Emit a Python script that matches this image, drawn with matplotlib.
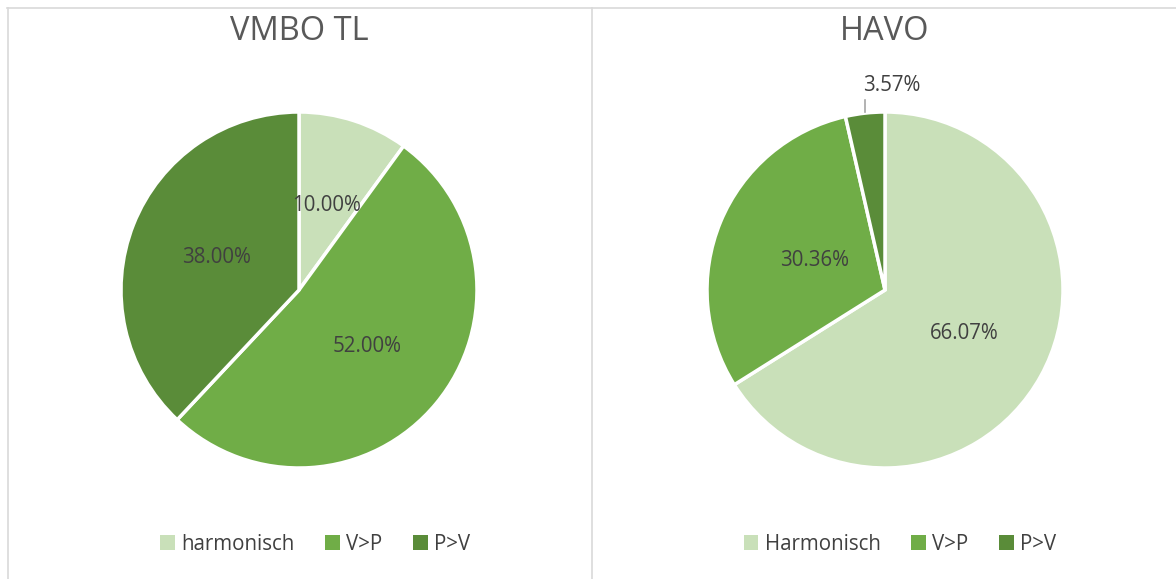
import numpy as np
import matplotlib
matplotlib.use("Agg")
import matplotlib.pyplot as plt
from matplotlib.lines import Line2D
from matplotlib.patches import Patch
from matplotlib import font_manager as fm

# pick a regular, normal-width Open Sans face explicitly
fname = None
for f in fm.fontManager.ttflist:
    if (f.name == "Open Sans" and f.style == "normal" and f.weight in (400, "normal", "regular")
            and f.stretch in ("normal", 500) and "Condensed" not in f.fname and "Semi" not in f.fname):
        fname = f.fname
        break
if fname is not None:
    fm.fontManager.addfont(fname)
plt.rcParams['font.family'] = ['Open Sans', 'DejaVu Sans']
plt.rcParams['font.stretch'] = 'normal'
plt.rcParams['font.weight'] = 'normal'

def fp(size):
    if fname is not None:
        return fm.FontProperties(fname=fname, size=size)
    return fm.FontProperties(family=['Open Sans', 'DejaVu Sans'], size=size)

# ---- data ----
titles = ["VMBO TL", "HAVO"]
labels_left = ["harmonisch", "V>P", "P>V"]
labels_right = ["Harmonisch", "V>P", "P>V"]
values_left = [10.00, 52.00, 38.00]
values_right = [66.07, 30.36, 3.57]

colors = ["#C9E0B9", "#70AD47", "#5A8C39"]
text_col = "#404040"
title_col = "#595959"
border_col = "#D9D9D9"

W, H = 1176, 579
fig = plt.figure(figsize=(W / 100, H / 100), dpi=100)
fig.patch.set_facecolor("white")

def fx(px):
    return px / W
def fy(py):
    return 1 - py / H

# panel borders
fig.add_artist(Line2D([fx(7), 1], [fy(7.5), fy(7.5)], color=border_col, lw=1.2))
fig.add_artist(Line2D([fx(7.5), fx(7.5)], [0, fy(7.5)], color=border_col, lw=1.2))
fig.add_artist(Line2D([fx(591.5), fx(591.5)], [0, fy(7.5)], color=border_col, lw=1.2))

R = 178
centers = [(299, 290), (885, 290)]
label_dist = [[0.5, 0.5, 0.5], [0.51, 0.43, None]]
legend_x = [315, 900]
legend_labels = [labels_left, labels_right]
fs = 14.8

for i, (vals, title) in enumerate(zip([values_left, values_right], titles)):
    cx, cy = centers[i]
    ax = fig.add_axes([fx(cx - R), fy(cy + R), 2 * R / W, 2 * R / H])
    wedges, _ = ax.pie(vals, colors=colors, startangle=90, counterclock=False,
                       radius=1.0, wedgeprops=dict(edgecolor="white", linewidth=2.5))
    ax.set_xlim(-1, 1)
    ax.set_ylim(-1, 1)
    ax.set_aspect("equal")
    ax.axis("off")
    for j, (w, v) in enumerate(zip(wedges, vals)):
        th = np.deg2rad((w.theta1 + w.theta2) / 2)
        d = label_dist[i][j]
        txt = f"{v:.2f}%"
        if d is not None:
            ax.text(d * np.cos(th), d * np.sin(th), txt, ha="center", va="center",
                    fontproperties=fp(fs), color=text_col)
        else:
            x0, y0 = np.cos(th), np.sin(th)
            ax.plot([x0, x0], [y0 + 0.005, 1.065], color="#A6A6A6", lw=1.2, clip_on=False)
            ax.text(x0 + 0.152, 1.15, txt, ha="center", va="center",
                    fontproperties=fp(fs), color=text_col, clip_on=False)
    fig.text(fx(cx), fy(32), title, ha="center", va="center", fontproperties=fp(23.5), color=title_col)

    handles = [Patch(facecolor=c, edgecolor="none") for c in colors]
    fig.legend(handles, legend_labels[i], loc="center", bbox_to_anchor=(fx(legend_x[i]), fy(544)),
               ncol=3, frameon=False, prop=fp(fs), labelcolor=text_col,
               handlelength=0.72, handleheight=0.72, handletextpad=0.3, columnspacing=1.5)

fig.savefig("out.png", dpi=100, facecolor="white")
